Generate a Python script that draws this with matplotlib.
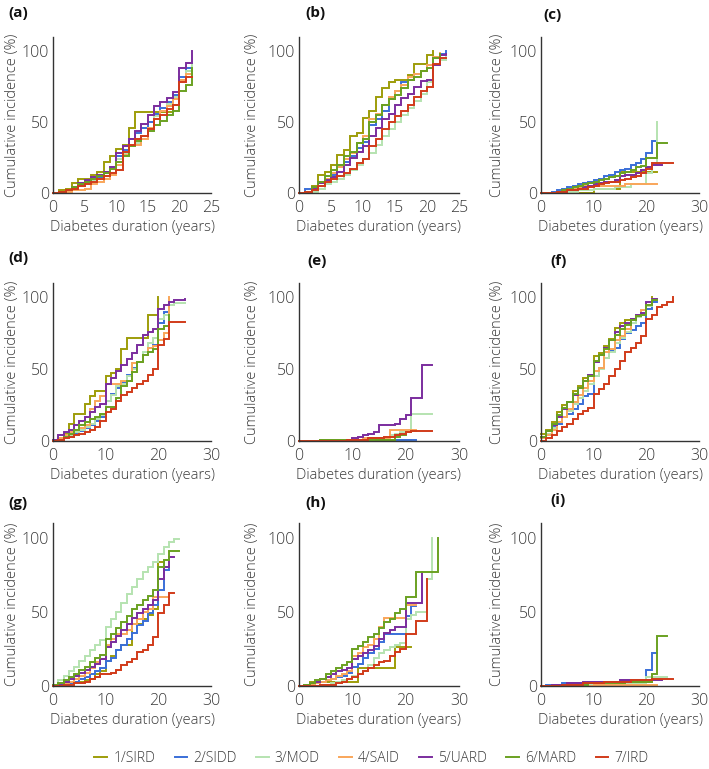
import matplotlib
matplotlib.use('Agg')
import matplotlib.pyplot as plt
import numpy as np

plt.rcParams['font.family'] = ['Open Sans', 'DejaVu Sans']

groups = ['1/SIRD', '2/SIDD', '3/MOD', '4/SAID', '5/UARD', '6/MARD', '7/IRD']
colors = ['#9E9D0A', '#3A6FD8', '#B5E3B0', '#F9A65A', '#7B2D9E', '#6AA121', '#D13B1A']
panel_letters = ['(a)', '(b)', '(c)', '(d)', '(e)', '(f)', '(g)', '(h)', '(i)']
xmax = [25, 25, 30, 30, 30, 30, 30, 30, 30]

# cumulative incidence (%) per year of diabetes duration (step at each integer year)
a_sird = [0,2,3,7,10,10,13,15,22,26,31,34,46,57,57,57,57,57,57,62,80,86,86]
a_sidd = [0,1,2,4,6,8,9,11,14,18,26,30,38,42,46,50,56,60,64,69,82,88,88]
a_mod = [0,1,2,3,5,7,9,12,15,18,24,28,33,35,40,46,54,58,63,68,80,86,92]
a_said = [0,0,1,2,2,3,6,8,10,13,20,27,33,34,38,46,52,58,61,66,80,84,84]
a_uard = [0,1,2,4,7,9,11,13,15,18,28,33,38,44,49,55,61,64,67,71,88,92,100]
a_mard = [0,1,2,4,6,8,10,12,14,17,22,26,33,37,40,44,48,51,55,58,72,76,88]
a_ird = [0,1,2,3,5,6,8,10,12,14,16,29,34,38,40,45,52,55,59,62,78,82,82]

b_sird = [0,1,5,13,15,20,27,30,40,42,53,58,68,74,78,80,80,83,91,91,97,100]
b_sidd = [0,3,4,8,10,13,18,22,26,32,36,48,52,58,66,72,78,80,84,86,90,96,98,100]
b_mod = [0,0,1,3,6,8,10,13,16,20,24,28,34,40,45,50,55,60,65,70,78,90,94,96]
b_said = [0,1,4,7,10,14,18,24,28,35,40,52,56,62,68,72,76,82,84,86,90,96,99]
b_uard = [0,1,3,7,9,11,15,20,25,29,33,40,46,52,56,62,67,70,75,79,80,90,97,98]
b_mard = [0,1,4,8,12,16,20,26,29,35,38,50,55,62,66,69,74,80,82,86,88,95,98]
b_ird = [0,1,2,5,8,10,12,14,17,21,24,33,38,45,50,54,58,62,68,72,75,91,95,95]

c_sird = [0,0,0,0,0,0,0,0,0,0,3,3,3,3,3,15,15,15,15,15,15,15,15]
c_sidd = [0,0,1,2,3,4,5,6,7,8,9,10,12,13,15,16,17,20,21,24,28,37,37]
c_mod = [0,0,0,0,1,1,1,2,2,2,3,3,3,3,4,4,4,6,6,6,14,20,50]
c_said = [0,0,0,0,1,2,3,4,5,5,5,5,5,5,5,5,6,6,6,6,6,6,6]
c_uard = [0,0,0,1,1,2,2,3,4,5,6,7,8,8,9,12,13,13,14,16,18,20,20,20]
c_mard = [0,0,0,1,2,3,4,5,6,7,8,9,10,11,12,14,15,16,18,19,25,25,35,35,35]
c_ird = [0,0,0,1,1,2,2,3,3,4,5,6,7,8,8,9,10,11,12,14,17,21,21,21,21,21]

d_sird = [1,2,5,12,19,19,26,31,35,35,45,47,50,64,72,72,72,72,88,88,100]
d_sidd = [0,1,2,3,5,7,9,11,14,17,28,33,37,41,46,51,55,60,65,67,82,90,90]
d_mod = [0,1,2,4,6,8,10,12,15,18,28,32,38,40,45,50,55,62,68,72,85,88,95,96,96,96]
d_said = [1,2,4,6,8,9,11,22,28,31,40,40,40,42,42,54,55,60,65,66,70,75,100]
d_uard = [1,4,6,8,11,14,17,20,24,26,40,44,49,53,57,61,67,74,76,78,92,95,97,98,98,99]
d_mard = [0,1,3,5,8,11,13,15,17,19,24,24,30,38,42,48,55,60,62,64,78,80,88]
d_ird = [0,1,2,3,4,5,6,8,10,14,20,22,28,32,34,37,40,42,46,50,67,71,83,83,83,83]

e_sird = [0,0,0,0,1,1,1,1,1,1,1,1,1,1,1,1,1,1,1,1,1,1]
e_sidd = [0,0,0,0,0,0,0,0,0,0,0,0,0,0,0,0,0,0,1,1,1,1,1]
e_mod = [0,0,0,0,0,0,0,0,0,0,0,0,1,1,2,2,3,4,5,6,6,19,19,19,19,19]
e_said = [0,0,0,0,0,0,0,0,1,1,1,1,2,2,2,2,2,8,8,8,8,8,8]
e_uard = [0,0,0,0,0,0,0,0,0,1,2,3,4,5,6,11,11,11,12,15,18,30,30,53,53,53]
e_mard = [0,0,0,0,1,1,1,1,1,1,1,1,1,1,1,1,1,1,3,4,6,7,7]
e_ird = [0,0,0,0,0,0,0,0,0,1,1,1,1,2,2,2,3,3,4,5,6,7,7,7,7,7]

f_sird = [5,8,13,20,25,27,35,38,44,45,59,61,66,71,79,82,84,85,88,88,95,100]
f_sidd = [3,5,10,12,17,19,22,26,31,33,45,51,58,63,65,71,75,77,80,82,92,97,97]
f_mod = [2,5,9,13,17,21,26,30,35,40,45,50,58,62,68,72,76,82,86,88,94,98,98]
f_said = [2,4,8,13,17,22,27,32,37,42,49,51,62,64,70,73,78,84,88,91,95,99,99]
f_uard = [3,7,11,17,22,27,32,37,42,46,55,60,65,70,76,80,82,85,88,89,97,99,99]
f_mard = [3,7,12,18,23,27,33,37,42,45,56,60,64,70,74,78,81,84,87,88,95,98,98]
f_ird = [0,2,4,7,10,12,15,19,21,23,33,36,40,45,50,56,62,65,68,73,85,88,93,95,97,100]

g_sird = [0,0,1,2,3,3,4,5,8,10,17,20,24,28,28,42,42,45,48,52,84,84]
g_sidd = [0,1,1,2,3,5,6,8,10,12,17,19,24,28,32,36,41,44,49,55,65,78,80]
g_mod = [1,4,7,10,13,17,20,24,28,31,40,45,50,56,62,67,72,77,80,84,89,94,97,99,99]
g_said = [0,1,2,3,5,7,9,12,16,18,28,32,35,35,38,42,45,50,52,60,60,60,60]
g_uard = [0,1,3,5,7,9,11,13,15,18,26,30,34,38,42,46,49,52,55,58,72,80,87,87]
g_mard = [1,2,4,6,8,11,13,16,19,21,32,35,39,43,47,52,55,58,61,65,80,85,91,91,91]
g_ird = [0,0,1,1,2,2,3,5,6,8,8,9,11,14,16,18,23,24,28,33,49,55,63,63]

h_sird = [0,0,3,3,3,3,3,3,3,3,3,12,12,12,12,12,12,12,26,26,26,26]
h_sidd = [0,1,1,2,3,4,5,6,7,9,13,15,19,22,25,30,35,35,35,35,47,54,54]
h_mod = [0,0,0,0,1,1,2,3,4,5,7,8,10,14,19,22,24,26,28,29,45,48,50,50,72,100]
h_said = [0,0,1,2,3,4,5,7,8,10,20,22,26,28,32,40,46,46,46,46,55,55,55]
h_uard = [0,1,2,3,5,6,8,10,11,12,18,20,22,24,27,32,36,38,40,40,56,56,56,77]
h_mard = [0,1,2,4,5,8,10,12,14,16,25,27,30,33,35,39,43,45,49,52,60,60,77,77,77,77,100]
h_ird = [0,0,0,0,1,1,1,2,3,5,6,8,10,12,14,16,17,20,23,25,35,35,44,44,72]

i_sird = [0,0,0,0,0,0,0,0,0,3,3,3,3,3,3,3,3,3,3,3,3,3]
i_sidd = [0,1,1,1,2,2,2,2,2,3,3,3,3,3,3,4,4,4,4,4,11,22,22]
i_mod = [0,0,0,0,0,1,1,1,1,1,1,1,1,1,2,2,2,2,2,2,6,6,6,6,6]
i_said = [0,0,0,0,0,0,0,0,0,0,1,1,1,1,1,1,1,1,1,1,1,1,1]
i_uard = [0,0,1,1,1,2,2,2,3,3,3,3,3,3,3,4,4,4,4,4,4,4,4,4]
i_mard = [0,0,0,0,0,1,1,1,1,2,2,2,2,2,2,2,3,3,3,3,3,8,34,34,34]
i_ird = [0,0,0,0,1,1,1,1,2,2,2,2,3,3,3,3,3,4,4,4,4,5,5,5,5,5]

panels = [
    [a_sird, a_sidd, a_mod, a_said, a_uard, a_mard, a_ird],
    [b_sird, b_sidd, b_mod, b_said, b_uard, b_mard, b_ird],
    [c_sird, c_sidd, c_mod, c_said, c_uard, c_mard, c_ird],
    [d_sird, d_sidd, d_mod, d_said, d_uard, d_mard, d_ird],
    [e_sird, e_sidd, e_mod, e_said, e_uard, e_mard, e_ird],
    [f_sird, f_sidd, f_mod, f_said, f_uard, f_mard, f_ird],
    [g_sird, g_sidd, g_mod, g_said, g_uard, g_mard, g_ird],
    [h_sird, h_sidd, h_mod, h_said, h_uard, h_mard, h_ird],
    [i_sird, i_sidd, i_mod, i_said, i_uard, i_mard, i_ird],
]

W, H = 709, 769
fig = plt.figure(figsize=(W / 100, H / 100), dpi=100)

col_left = [53, 299, 541]
col_w = [158, 160, 158]
row_y0 = [193, 441, 686]
row_h = [156, 158, 163]
label_pos = [(8, 13), (305, 13), (543, 15),
             (8, 258), (307, 261), (550, 261),
             (8, 503), (305, 503), (550, 500)]
ylab_x = [20, 260, 505]

text_col = '#3a3a3a'
handles = []
for idx, series in enumerate(panels):
    r, c = divmod(idx, 3)
    ax = fig.add_axes([col_left[c] / W, (H - row_y0[r]) / H, col_w[c] / W, row_h[r] / H])
    for k, vals in enumerate(series):
        x = np.arange(len(vals))
        ln, = ax.step(x, vals, where='post', color=colors[k], lw=1.4, clip_on=False,
                      solid_joinstyle='miter')
        if idx == 0:
            handles.append(ln)
    ax.set_xlim(0, xmax[idx])
    ax.set_ylim(0, 110)
    if xmax[idx] == 25:
        ax.set_xticks([0, 5, 10, 15, 20, 25])
    else:
        ax.set_xticks([0, 10, 20, 30])
    ax.set_yticks([0, 50, 100])
    for s in ['top', 'right']:
        ax.spines[s].set_visible(False)
    for s in ['left', 'bottom']:
        ax.spines[s].set_color('#333333')
        ax.spines[s].set_linewidth(1.0)
    ax.tick_params(length=0, labelsize=11.5, colors=text_col, pad=3)
    ax.tick_params(axis='x', pad=5)
    for t in ax.get_xticklabels() + ax.get_yticklabels():
        t.set_fontweight('light')
    ax.set_xlabel('Diabetes duration (years)', fontsize=10.5, color=text_col, labelpad=3,
                  fontweight='light')
    ax.set_ylabel('Cumulative incidence (%)', fontsize=10.5, color=text_col,
                  fontweight='light')
    ax.yaxis.set_label_coords(-(col_left[c] - ylab_x[c]) / col_w[c], 0.5)
    ax.patch.set_alpha(0)
    lx, ly = label_pos[idx]
    fig.text(lx / W, 1 - ly / H, panel_letters[idx], fontsize=11, fontweight='bold',
             ha='left', va='center', color='#111111')

leg = fig.legend(handles, groups, loc='center', bbox_to_anchor=(0.524, 1 - 758 / H), ncol=7,
                 frameon=False, fontsize=10, handlelength=0.9, handletextpad=0.45,
                 columnspacing=1.4, labelcolor=text_col)
for t in leg.get_texts():
    t.set_fontweight('light')

fig.savefig('out.png', dpi=100)
